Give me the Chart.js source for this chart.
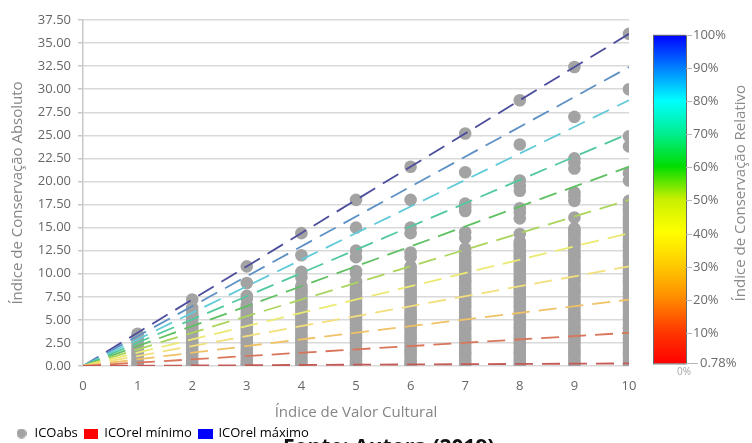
<!DOCTYPE html>
<html>
<head>
<meta charset="utf-8">
<script src="https://cdn.jsdelivr.net/npm/chart.js@4"></script>
<style>
  html, body { margin: 0; padding: 0; background: #fff; overflow: hidden; }
  #grafico { display: block; }
</style>
</head>
<body>
<canvas id="grafico" width="752" height="470"></canvas>
<script>
// ICOabs por valor cultural (colunas x = 1..10)
const vc1 = [0, 0.3, 0.6, 0.9, 1.2, 1.5, 1.8, 2.1, 2.4, 2.7, 3.0, 3.3, 3.5];
const vc2 = [0, 0.3, 0.6, 0.9, 1.2, 1.5, 1.8, 2.1, 2.4, 2.7, 3.0, 3.3, 3.6, 3.9, 4.2, 4.5, 4.8, 5.1, 5.4, 5.7, 6.0, 6.3, 7.2];
const vc3 = [0, 0.3, 0.6, 0.9, 1.2, 1.5, 1.8, 2.1, 2.4, 2.7, 3.0, 3.3, 3.6, 3.9, 4.2, 4.5, 4.8, 5.1, 5.4, 5.7, 6.0, 6.3, 6.6,
  7.3, 7.6, 9.0, 10.8];
const vc4 = [0, 0.3, 0.6, 0.9, 1.2, 1.5, 1.8, 2.1, 2.4, 2.7, 3.0, 3.3, 3.6, 3.9, 4.2, 4.5, 4.8, 5.1, 5.4, 5.7, 6.0, 6.3, 6.6,
  6.9, 7.2, 7.5, 7.8, 8.1, 8.4, 8.7, 9.6, 10.2, 12.0, 14.4];
const vc5 = [0, 0.3, 0.6, 0.9, 1.2, 1.5, 1.8, 2.1, 2.4, 2.7, 3.0, 3.3, 3.6, 3.9, 4.2, 4.5, 4.8, 5.1, 5.4, 5.7, 6.0, 6.3, 6.6,
  6.9, 7.2, 7.5, 7.8, 8.1, 8.4, 8.7, 9.0, 9.2, 10.0, 10.3, 11.8, 12.5, 15.0, 18.0];
const vc6 = [0, 0.3, 0.6, 0.9, 1.2, 1.5, 1.8, 2.1, 2.4, 2.7, 3.0, 3.3, 3.6, 3.9, 4.2, 4.5, 4.8, 5.1, 5.4, 5.7, 6.0, 6.3, 6.6,
  6.9, 7.2, 7.5, 7.8, 8.1, 8.4, 8.7, 9.0, 9.3, 9.6, 9.9, 10.2, 10.5, 10.8, 11.8, 12.3, 14.4, 15.0, 18.0, 21.6];
const vc7 = [0, 0.3, 0.6, 0.9, 1.2, 1.5, 1.8, 2.1, 2.4, 2.7, 3.0, 3.3, 3.6, 3.9, 4.2, 4.5, 4.8, 5.1, 5.4, 5.7, 6.0, 6.3, 6.6,
  6.9, 7.2, 7.5, 7.8, 8.1, 8.4, 8.7, 9.0, 9.3, 9.6, 9.9, 10.2, 10.5, 10.8, 11.1, 11.4, 11.7, 12.2, 12.7, 13.9, 14.5,
  16.8, 17.2, 17.6, 21.0, 25.2];
const vc8 = [0, 0.3, 0.6, 0.9, 1.2, 1.5, 1.8, 2.1, 2.4, 2.7, 3.0, 3.3, 3.6, 3.9, 4.2, 4.5, 4.8, 5.1, 5.4, 5.7, 6.0, 6.3, 6.6,
  6.9, 7.2, 7.5, 7.8, 8.1, 8.4, 8.7, 9.0, 9.3, 9.6, 9.9, 10.2, 10.5, 10.8, 11.1, 11.4, 11.7, 12.0, 12.3, 12.6, 12.9, 13.2,
  13.5, 14.3, 16.0, 16.6, 17.1, 19.0, 19.5, 20.1, 24.0, 28.8];
const vc9 = [0, 0.3, 0.6, 0.9, 1.2, 1.5, 1.8, 2.1, 2.4, 2.7, 3.0, 3.3, 3.6, 3.9, 4.2, 4.5, 4.8, 5.1, 5.4, 5.7, 6.0, 6.3, 6.6,
  6.9, 7.2, 7.5, 7.8, 8.1, 8.4, 8.7, 9.0, 9.3, 9.6, 9.9, 10.2, 10.5, 10.8, 11.1, 11.4, 11.7, 12.0, 12.3, 12.6, 12.9, 13.2,
  13.5, 13.8, 14.1, 14.4, 14.7, 14.9, 16.1, 17.9, 18.4, 18.8, 21.4, 22.0, 22.5, 27.0, 32.4];
const vc10 = [0, 0.3, 0.6, 0.9, 1.2, 1.5, 1.8, 2.1, 2.4, 2.7, 3.0, 3.3, 3.6, 3.9, 4.2, 4.5, 4.8, 5.1, 5.4, 5.7, 6.0, 6.3, 6.6,
  6.9, 7.2, 7.5, 7.8, 8.1, 8.4, 8.7, 9.0, 9.3, 9.6, 9.9, 10.2, 10.5, 10.8, 11.1, 11.4, 11.7, 12.0, 12.3, 12.6, 12.9, 13.2,
  13.5, 13.8, 14.1, 14.4, 14.7, 15.0, 15.3, 15.6, 15.9, 16.2, 16.5, 16.8, 17.1, 17.4, 17.7, 17.9, 20.1, 20.9, 23.8, 24.9,
  30.0, 36.0];
const colunas = [vc1, vc2, vc3, vc4, vc5, vc6, vc7, vc8, vc9, vc10];

// retas de ICOrel (0.78% .. 100%): valor de ICOabs em x = 10
const niveis = ['0.78%', '10%', '20%', '30%', '40%', '50%', '60%', '70%', '80%', '90%', '100%'];
const fimRetas = [0.28, 3.6, 7.2, 10.8, 14.4, 18.0, 21.6, 25.2, 28.8, 32.4, 36.0];
const coresRetas = ['#c45a55', '#d9755a', '#f0c266', '#f3df7c', '#ecea72', '#aad45c', '#5fc062', '#52c99c', '#62cbd9', '#5d90c4', '#4d4d9e'];

// escala de cores
const cbValores = [0.78, 10, 20, 30, 40, 50, 60, 70, 80, 90, 100];
const cbRotulos = ['0.78%', '10%', '20%', '30%', '40%', '50%', '60%', '70%', '80%', '90%', '100%'];
const cbCores = ['#ff0000', '#ff3a00', '#ff8c00', '#ffcc00', '#ffff00', '#c8f000', '#00dc00', '#00ee90', '#00ffff', '#0080ff', '#0000ff'];

const yTicks = [0, 2.5, 5, 7.5, 10, 12.5, 15, 17.5, 20, 22.5, 25, 27.5, 30, 32.5, 35, 37.5];

const pontos = [];
colunas.forEach((col, i) => col.forEach(v => pontos.push({ x: i + 1, y: v })));

const datasets = [{
  type: 'scatter',
  label: 'ICOabs',
  data: pontos,
  backgroundColor: '#a3a3a3',
  pointBackgroundColor: '#a3a3a3',
  pointBorderWidth: 0,
  borderWidth: 0,
  pointRadius: 6.3,
  order: 2
}];

fimRetas.forEach((v, i) => {
  datasets.push({
    type: 'line',
    label: niveis[i],
    data: [{ x: 0, y: 0 }, { x: 10, y: v }],
    borderColor: coresRetas[i],
    borderWidth: 1.8,
    borderDash: [18, 9],
    pointRadius: 0,
    fill: false,
    order: 1
  });
});

const fonteTxt = 'Open Sans';

// marcadores da legenda
function marcador(w, h, cor, redondo) {
  const cv = document.createElement('canvas');
  cv.width = w; cv.height = h;
  const g = cv.getContext('2d');
  g.fillStyle = cor;
  if (redondo) { g.beginPath(); g.arc(w / 2, h / 2, w / 2, 0, Math.PI * 2); g.fill(); }
  else g.fillRect(0, 0, w, h);
  return cv;
}

const extras = {
  id: 'extras',
  afterDraw(chart) {
    const c = chart.ctx;
    const cb = chart.scales.cb;
    const x0 = 653, x1 = 686;
    const yTop = cb.getPixelForValue(100);
    const yBot = cb.getPixelForValue(0.78);
    const g = c.createLinearGradient(0, yBot, 0, yTop);
    cbCores.forEach((col, i) => g.addColorStop(i / (cbCores.length - 1), col));
    c.save();
    c.fillStyle = g;
    c.fillRect(x0, yTop, x1 - x0, yBot - yTop);
    c.strokeStyle = '#6a6a6a';
    c.lineWidth = 1;
    c.strokeRect(x0 + 0.5, yTop + 0.5, x1 - x0, yBot - yTop);

    c.font = '13px "' + fonteTxt + '"';
    c.fillStyle = '#6b6b6b';
    c.textBaseline = 'middle';
    c.textAlign = 'left';
    cbValores.forEach((v, i) => {
      const y = Math.round(cb.getPixelForValue(v)) + 0.5;
      c.strokeStyle = '#b5b5b5';
      c.beginPath();
      c.moveTo(x1, y);
      c.lineTo(i === 0 ? x1 + 12 : x1 + 6, y);
      c.stroke();
      c.fillText(cbRotulos[i], i === 0 ? x1 + 14 : x1 + 7, y);
    });
    c.font = '10px "' + fonteTxt + '"';
    c.fillStyle = '#a8a8a8';
    c.textAlign = 'center';
    c.fillText('0%', x1 - 2, yBot + 9);

    c.translate(741, (yTop + yBot) / 2 - 6);
    c.rotate(-Math.PI / 2);
    c.font = '15px "' + fonteTxt + '"';
    c.fillStyle = '#8a8a8a';
    c.textAlign = 'center';
    c.fillText('Índice de Conservação Relativo', 0, 0);
    c.restore();

    c.save();
    c.font = 'bold 21px "' + fonteTxt + '"';
    c.fillStyle = '#111';
    c.textBaseline = 'top';
    c.textAlign = 'left';
    c.fillText('Fonte: Autora (2019)', 283, 438);
    c.restore();
  }
};

new Chart(document.getElementById('grafico'), {
  type: 'scatter',
  data: { datasets },
  options: {
    responsive: false,
    animation: false,
    devicePixelRatio: 1,
    layout: { padding: { top: 20, right: 123, left: 8, bottom: 20 } },
    scales: {
      x: {
        type: 'linear',
        min: 0,
        max: 10,
        afterFit: s => { s.height = 54; },
        grid: { display: false },
        border: { display: false },
        ticks: { stepSize: 1, color: '#666', padding: 4, font: { family: fonteTxt, size: 13 } },
        title: { display: true, text: 'Índice de Valor Cultural', color: '#858585', padding: { top: 4, bottom: -2 }, font: { family: fonteTxt, size: 15 } }
      },
      y: {
        min: 0,
        max: 37.5,
        afterFit: s => { s.width = 75; },
        afterBuildTicks: s => { s.ticks = yTicks.map(v => ({ value: v })); },
        grid: { color: '#d9d9d9', lineWidth: 1.5, tickLength: 5, tickColor: '#c8c8c8' },
        border: { display: true, color: '#c8c8c8', width: 1.5 },
        ticks: { color: '#666', padding: 7, font: { family: fonteTxt, size: 13 }, callback: v => v.toFixed(2) },
        title: { display: true, text: 'Índice de Conservação Absoluto', color: '#858585', padding: { top: 1, bottom: 2 }, font: { family: fonteTxt, size: 15 } }
      },
      cb: {
        type: 'linear',
        display: false,
        position: 'right',
        min: 0,
        max: 104.5
      }
    },
    plugins: {
      tooltip: { enabled: false },
      legend: {
        display: true,
        position: 'bottom',
        align: 'start',
        labels: {
          usePointStyle: true,
          boxHeight: 12,
          padding: 7,
          color: '#666',
          font: { family: fonteTxt, size: 13 },
          generateLabels: () => [
            { text: 'ICOabs', pointStyle: marcador(10, 10, '#a3a3a3', true), hidden: false, datasetIndex: 0 },
            { text: 'ICOrel mínimo', pointStyle: marcador(14, 10, '#ff0000', false), hidden: false, datasetIndex: 1 },
            { text: 'ICOrel máximo', pointStyle: marcador(15, 10, '#0000ff', false), hidden: false, datasetIndex: 11 }
          ]
        }
      }
    }
  },
  plugins: [extras]
});
</script>
</body>
</html>
